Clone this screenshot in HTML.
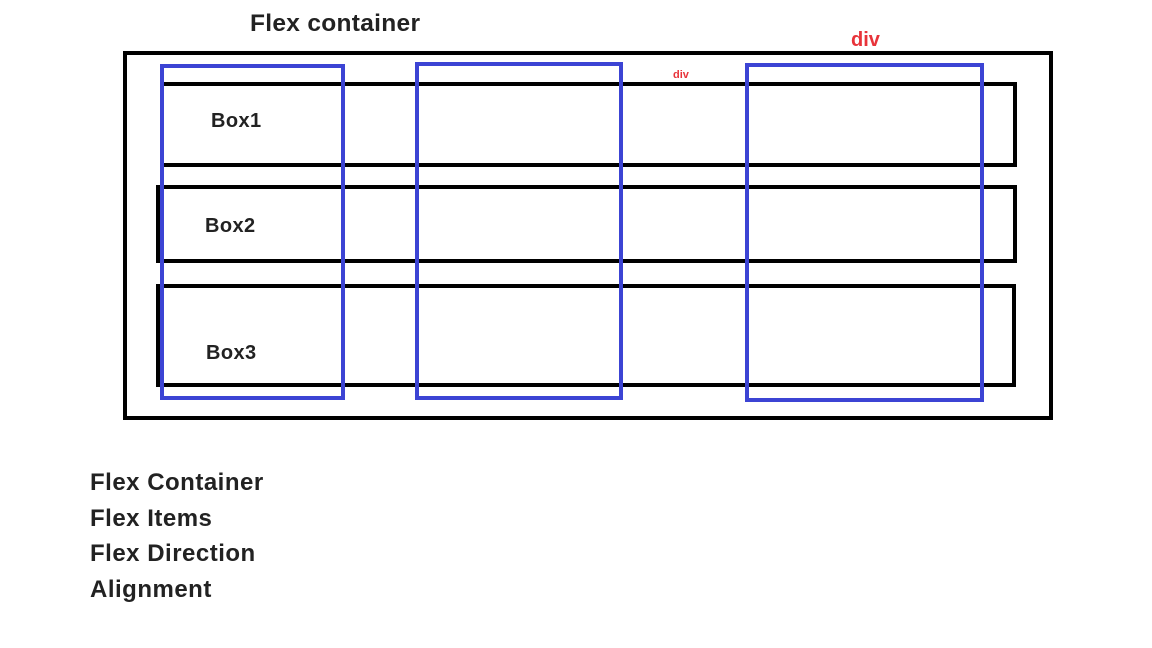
<!DOCTYPE html>
<html><head><meta charset="utf-8"><style>
body{margin:0;width:1152px;height:648px;background:#fff;position:relative;overflow:hidden;font-family:"Liberation Sans",sans-serif;}
.r{position:absolute;box-sizing:border-box;}
.k{border:4px solid #000;}
.b{border:4px solid #3c44d4;}
.t{position:absolute;font-weight:bold;color:#222;white-space:nowrap;line-height:1;}
</style></head><body>
<div class="t" style="left:250px;top:12px;font-size:24.5px;letter-spacing:0.3px;">Flex container</div>
<div class="t" style="left:851px;top:30px;font-size:20px;color:#e8333a;">div</div>
<div class="r k" style="left:123px;top:51px;width:930px;height:369px;"></div>
<div class="r k" style="left:160px;top:82px;width:857px;height:85px;"></div>
<div class="r k" style="left:156px;top:185px;width:861px;height:78px;"></div>
<div class="r k" style="left:156px;top:284px;width:860px;height:103px;"></div>
<div class="t" style="left:673px;top:70px;font-size:11px;color:#e8333a;">div</div>
<div class="t" style="left:211px;top:111px;font-size:20px;letter-spacing:0.4px;">Box1</div>
<div class="t" style="left:205px;top:216px;font-size:20px;letter-spacing:0.4px;">Box2</div>
<div class="t" style="left:206px;top:343px;font-size:20px;letter-spacing:0.4px;">Box3</div>
<div class="r b" style="left:160px;top:64px;width:185px;height:336px;"></div>
<div class="r b" style="left:415px;top:62px;width:208px;height:338px;"></div>
<div class="r b" style="left:745px;top:63px;width:239px;height:339px;"></div>
<div class="t" style="left:90px;top:471px;font-size:24px;letter-spacing:0.5px;">Flex Container</div>
<div class="t" style="left:90px;top:507px;font-size:24px;letter-spacing:0.5px;">Flex Items</div>
<div class="t" style="left:90px;top:542px;font-size:24px;letter-spacing:0.5px;">Flex Direction</div>
<div class="t" style="left:90px;top:578px;font-size:24px;letter-spacing:0.5px;">Alignment</div>
</body></html>
